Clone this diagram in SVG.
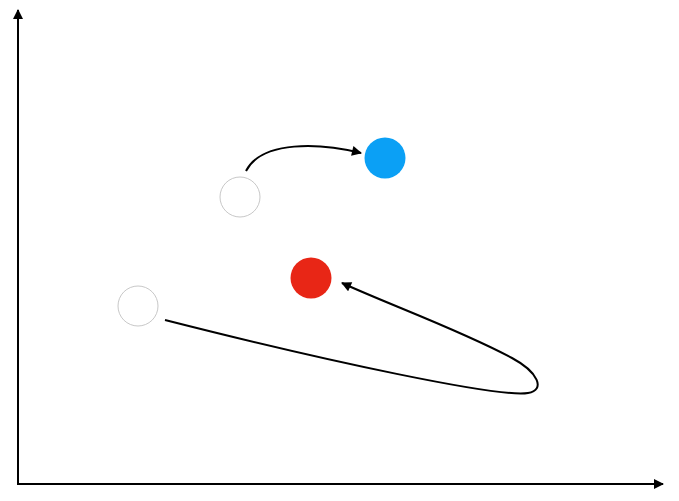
<svg xmlns="http://www.w3.org/2000/svg" width="679" height="501" viewBox="0 0 679 501">
<style>
.axis{stroke:#000;stroke-width:2;fill:none}
.conn{stroke:#000;stroke-width:2;fill:none}
.empty{fill:#fff;stroke:#c8c8c8;stroke-width:1}
</style>
<defs>
<marker id="ah" viewBox="0 0 10 10" refX="9" refY="5" markerWidth="11" markerHeight="10" markerUnits="userSpaceOnUse" orient="auto">
<path d="M0,0 L10,5 L0,10 Z" fill="#000"/>
</marker>
</defs>
<rect width="679" height="501" fill="#fff"/>
<g id="axes">
<path class="axis" d="M18,484 L18,10" marker-end="url(#ah)"/>
<path class="axis" d="M17,484 L663,484" marker-end="url(#ah)"/>
</g>
<g id="node-white-top"><circle class="empty" cx="240" cy="197" r="20"/></g>
<g id="node-blue"><circle cx="385" cy="158" r="20.5" fill="#0ba0f5"/></g>
<g id="node-red"><circle cx="311" cy="278" r="20.5" fill="#e82616"/></g>
<g id="node-white-left"><circle class="empty" cx="138" cy="306" r="20"/></g>
<g id="connectors">
<path class="conn" d="M246,171 C262,140 320,143 361,153" marker-end="url(#ah)"/>
<path class="conn" d="M165,320 C330,362 500,398 528,393 C546,390 538,372 512,358 C460,330 390,305 342,283" marker-end="url(#ah)"/>
</g>
</svg>
